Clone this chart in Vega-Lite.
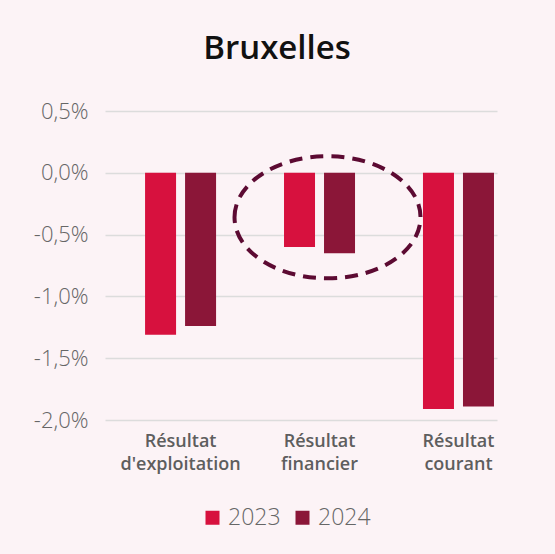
{
  "$schema": "https://vega.github.io/schema/vega-lite/v6.json",
  "autosize": "none",
  "width": 392,
  "height": 309,
  "padding": {"left": 105, "top": 111, "right": 58, "bottom": 134},
  "background": "#fcf3f6",
  "config": {
    "view": {"stroke": null},
    "font": "Open Sans"
  },
  "title": {
    "text": "Bruxelles",
    "fontSize": 33,
    "fontWeight": 600,
    "color": "#111111",
    "anchor": "middle",
    "dx": -24,
    "offset": 34
  },
  "data": {
    "values": [
      {"poste": "Résultat d'exploitation", "annee": "2023", "valeur": -0.0131},
      {"poste": "Résultat d'exploitation", "annee": "2024", "valeur": -0.0124},
      {"poste": "Résultat financier", "annee": "2023", "valeur": -0.0060},
      {"poste": "Résultat financier", "annee": "2024", "valeur": -0.0065},
      {"poste": "Résultat courant", "annee": "2023", "valeur": -0.0191},
      {"poste": "Résultat courant", "annee": "2024", "valeur": -0.0189}
    ]
  },
  "layer": [
    {
      "mark": {"type": "bar"},
      "encoding": {
        "x": {
          "field": "poste",
          "type": "nominal",
          "sort": null,
          "scale": {"paddingInner": 0.489, "paddingOuter": 0.155, "align": 0.93},
          "axis": {
            "title": null,
            "domain": false,
            "ticks": false,
            "labelAngle": 0,
            "labelExpr": "split(datum.label, ' ')",
            "labelFontSize": 18,
            "labelFontWeight": 600,
            "labelColor": "#5e5e5e",
            "labelLineHeight": 23,
            "labelPadding": 12
          }
        },
        "xOffset": {
          "field": "annee",
          "type": "nominal",
          "scale": {"paddingInner": 0.225, "paddingOuter": 0}
        },
        "y": {
          "field": "valeur",
          "type": "quantitative",
          "scale": {"domain": [-0.02, 0.005], "nice": false},
          "axis": {
            "title": null,
            "values": [-0.02, -0.015, -0.01, -0.005, 0, 0.005],
            "labelExpr": "replace(replace(format(datum.value, '.1%'), '.', ','), '\u2212', '-')",
            "domain": false,
            "ticks": false,
            "labelPadding": 17,
            "labelFontSize": 22,
            "labelFontWeight": 300,
            "labelColor": "#666666",
            "gridColor": "#dcdcdc",
            "gridWidth": 1.5
          }
        },
        "color": {
          "field": "annee",
          "type": "nominal",
          "scale": {"domain": ["2023", "2024"], "range": ["#d7113e", "#8b1638"]},
          "legend": {
            "title": null,
            "orient": "none",
            "legendX": 96,
            "legendY": 395,
            "direction": "horizontal",
            "symbolType": "square",
            "symbolSize": 196,
            "symbolStrokeWidth": 0,
            "symbolOpacity": 1,
            "labelFontSize": 23,
            "labelFontWeight": 300,
            "labelColor": "#666666",
            "labelOffset": 4,
            "columnPadding": 10
          }
        }
      }
    },
    {
      "data": {"values": [{"poste": "Résultat financier", "valeur": -0.0036}]},
      "mark": {
        "type": "point",
        "shape": "M-1,0A1,0.656,0,1,1,1,0A1,0.656,0,1,1,-1,0Z",
        "size": 34596,
        "filled": false,
        "stroke": "#5c0a32",
        "strokeWidth": 4,
        "strokeDash": [13, 8],
        "opacity": 1,
        "xOffset": 8
      },
      "encoding": {
        "x": {"field": "poste", "type": "nominal", "sort": null},
        "y": {"field": "valeur", "type": "quantitative"}
      }
    }
  ]
}
